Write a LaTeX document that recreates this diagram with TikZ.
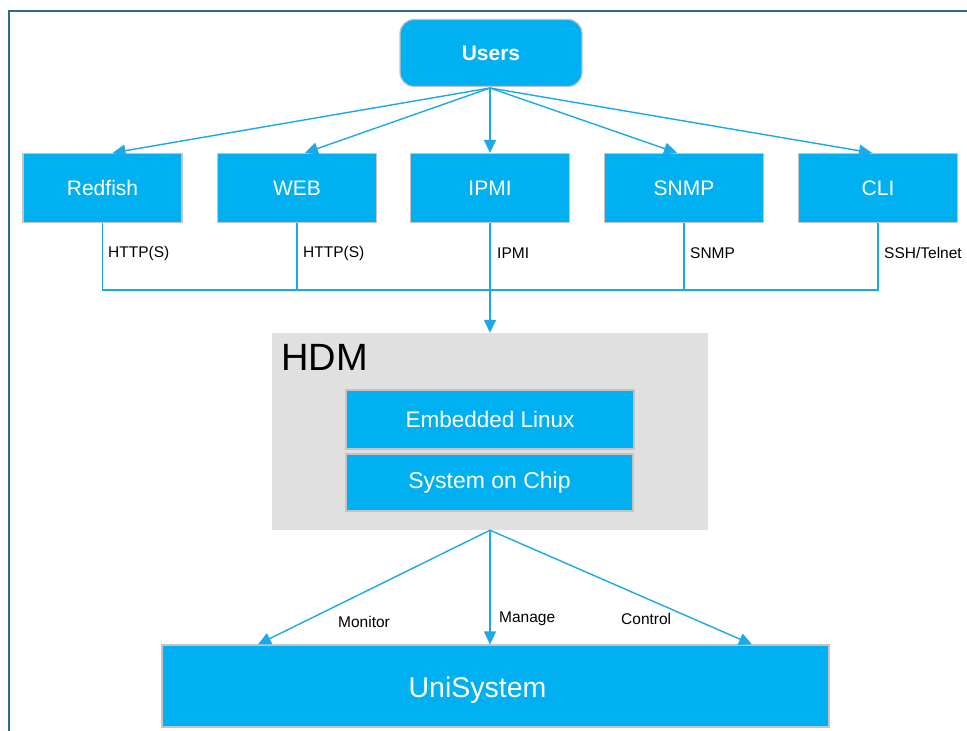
\documentclass[tikz,border=0pt]{standalone}
\usepackage{fontspec}
\setmainfont{Liberation Sans}
\usetikzlibrary{arrows.meta}
\definecolor{boxblue}{HTML}{00B0F0}
\definecolor{lineblue}{HTML}{1CA9E6}
\definecolor{frameblue}{HTML}{2E6A8C}
\definecolor{hdmgray}{HTML}{E0E0E0}
\definecolor{edgegray}{HTML}{C4C4C4}
\tikzset{
  bluebox/.style={draw=edgegray, line width=1.2pt, fill=boxblue, text=white, inner sep=0pt, font=\fontsize{21}{25}\selectfont},
  rowbox/.style={bluebox, minimum width=159pt, minimum height=69pt},
  conn/.style={draw=lineblue, line width=1.4pt},
  arr/.style={conn, -{Triangle[length=13pt,width=12pt]}},
  lab/.style={anchor=west, inner sep=0pt, text=black, font=\fontsize{15.5}{18}\selectfont}
}
\begin{document}
\begin{tikzpicture}[x=1pt,y=-1pt]
\useasboundingbox (0,0) rectangle (967,731);
\fill[white] (0,0) rectangle (967,731);
% frame
\draw[frameblue, line width=2pt] (9,735) -- (9,11) -- (970,11);

% users
\node[bluebox, rounded corners=14pt, minimum width=182pt, minimum height=67pt, font=\bfseries\fontsize{21}{25}\selectfont] (users) at (491,53) {Users};

% row boxes
\node[rowbox] (redfish) at (102.5,188) {Redfish};
\node[rowbox] (web) at (297,188) {WEB};
\node[rowbox] (ipmi) at (490,188) {IPMI};
\node[rowbox] (snmp) at (684,188) {SNMP};
\node[rowbox] (cli) at (878,188) {CLI};

\coordinate (src) at (490,88);
\draw[arr] (src) -- ([xshift=10pt]redfish.north);
\draw[arr] (src) -- ([xshift=8pt]web.north);
\draw[arr] (src) -- (ipmi.north);
\draw[arr] (src) -- ([xshift=-7pt]snmp.north);
\draw[arr] (src) -- ([xshift=-6pt]cli.north);

% bus
\coordinate (bus) at (490,290);
\draw[conn] (redfish.south) -- (redfish.south |- bus) -- (cli.south |- bus) -- (cli.south);
\draw[conn] (web.south) -- (web.south |- bus);
\draw[conn] (snmp.south) -- (snmp.south |- bus);

\node[lab] (l1) at (108,253) {HTTP(S)};
\node[lab] (l2) at (303,253) {HTTP(S)};
\node[lab] (l3) at (497,253) {IPMI};
\node[lab] (l4) at (690,253) {SNMP};
\node[lab] (l5) at (884,253) {SSH/Telnet};

% HDM
\node[fill=hdmgray, minimum width=436pt, minimum height=197pt, inner sep=0pt] (hdm) at (490,431.5) {};
\node[anchor=north west, inner sep=0pt, font=\fontsize{38}{44}\selectfont] (hdmlabel) at (281,344) {HDM};
\draw[arr] (ipmi.south) -- (hdm.north);

\node[bluebox, minimum width=288pt, minimum height=59pt, font=\fontsize{22.5}{26}\selectfont] (linux) at (490,419.5) {Embedded Linux};
\node[bluebox, minimum width=287pt, minimum height=57pt, font=\fontsize{23}{26}\selectfont] (soc) at (489.5,482.5) {System on Chip};

% UniSystem
\node[bluebox, minimum width=667pt, minimum height=82pt,
  label={[text=white, font=\fontsize{28.5}{32}\selectfont, xshift=-18pt, yshift=-4pt]center:UniSystem}] (uni) at (495.5,686) {};

\draw[arr] (hdm.south) -- (uni.north -| 258,0);
\draw[arr] (hdm.south) -- (uni.north -| hdm.south);
\draw[arr] (hdm.south) -- (uni.north -| 752,0);

\node[lab] (m1) at (338,622) {Monitor};
\node[lab] (m2) at (499,619) {Manage};
\node[lab] (m3) at (621,619) {Control};
\end{tikzpicture}
\end{document}
